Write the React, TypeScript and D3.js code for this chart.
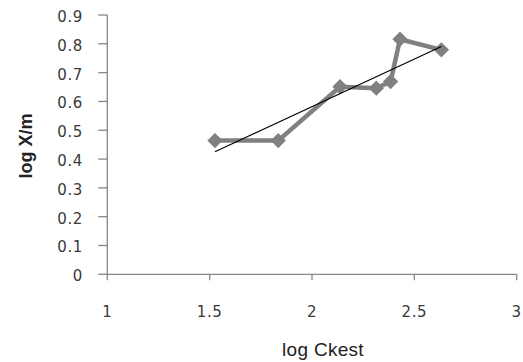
import React from "react";
import * as d3 from "d3";

const logC: number[] = [1.526, 1.835, 2.137, 2.314, 2.384, 2.43, 2.632];
const logXm: number[] = [0.464, 0.464, 0.651, 0.646, 0.669, 0.816, 0.779];
const xTicks: number[] = [1, 1.5, 2, 2.5, 3];
const yTicks: number[] = [0, 0.1, 0.2, 0.3, 0.4, 0.5, 0.6, 0.7, 0.8, 0.9];
const xTitle = "log Ckest";
const yTitle = "log X/m";

export default function App() {
  const W = 523, H = 362;
  const x = d3.scaleLinear().domain([1, 3]).range([107.3, 516.7]);
  const y = d3.scaleLinear().domain([0, 0.9]).range([274.3, 15]);
  const pts = logC.map((c, i) => [c, logXm[i]] as [number, number]);
  const line = d3.line<[number, number]>().x(d => x(d[0])).y(d => y(d[1]));

  const mx = d3.mean(logC)!, my = d3.mean(logXm)!;
  let sxy = 0, sxx = 0;
  logC.forEach((c, i) => { sxy += (c - mx) * (logXm[i] - my); sxx += (c - mx) ** 2; });
  const slope = sxy / sxx, icpt = my - slope * mx;
  const [x0, x1] = d3.extent(logC) as [number, number];
  const trend: [number, number][] = [[x0, icpt + slope * x0], [x1, icpt + slope * x1]];

  const axisColor = "#878787";
  const textColor = "#3a3a3a";
  const tickFont = "'DejaVu Sans', Verdana, sans-serif";
  const diamond = d3.symbol().type(d3.symbolDiamond2).size(150)()!;

  return (
    <svg width={W} height={H} style={{ position: "absolute", left: 0, top: 0, background: "#fff" }}>
      <rect width={W} height={H} fill="#fff" />
      {/* y axis */}
      <line x1={x(1)} x2={x(1)} y1={y(0.9)} y2={y(0)} stroke={axisColor} strokeWidth={1.3} />
      {yTicks.map(t => (
        <g key={"y" + t}>
          <line x1={x(1) - 9} x2={x(1)} y1={y(t)} y2={y(t)} stroke={axisColor} strokeWidth={1.3} />
          <text x={83} y={y(t) + 1.5} dy="0.36em" textAnchor="end" fontFamily={tickFont} fontSize={15} letterSpacing={0.6} fill={textColor}>
            {t === 0 ? "0" : t.toFixed(1)}
          </text>
        </g>
      ))}
      {/* x axis */}
      <line x1={x(1)} x2={x(3)} y1={y(0)} y2={y(0)} stroke={axisColor} strokeWidth={1.3} />
      {xTicks.map(t => (
        <g key={"x" + t}>
          <line x1={x(t)} x2={x(t)} y1={y(0)} y2={y(0) + 6} stroke={axisColor} strokeWidth={1.3} />
          <text x={x(t)} y={317} textAnchor="middle" fontFamily={tickFont} fontSize={15} letterSpacing={0.6} fill={textColor}>
            {String(t)}
          </text>
        </g>
      ))}
      {/* series */}
      <path d={line(pts)!} fill="none" stroke="#808080" strokeWidth={4.5} strokeLinejoin="round" />
      {pts.map((p, i) => (
        <path key={i} d={diamond} transform={`translate(${x(p[0])},${y(p[1])})`} fill="#808080" />
      ))}
      {/* trend line */}
      <path d={line(trend)!} fill="none" stroke="#000" strokeWidth={1.2} />
      {/* titles */}
      <text x={323} y={356} textAnchor="middle" fontFamily="'Liberation Sans', Arial, sans-serif" fontSize={19} letterSpacing={0.3} fill="#222">
        {xTitle}
      </text>
      <text transform={`translate(32,146) rotate(-90)`} textAnchor="middle" fontFamily="'Liberation Sans', Arial, sans-serif" fontWeight="bold" fontSize={18} fill="#222">
        {yTitle}
      </text>
    </svg>
  );
}
